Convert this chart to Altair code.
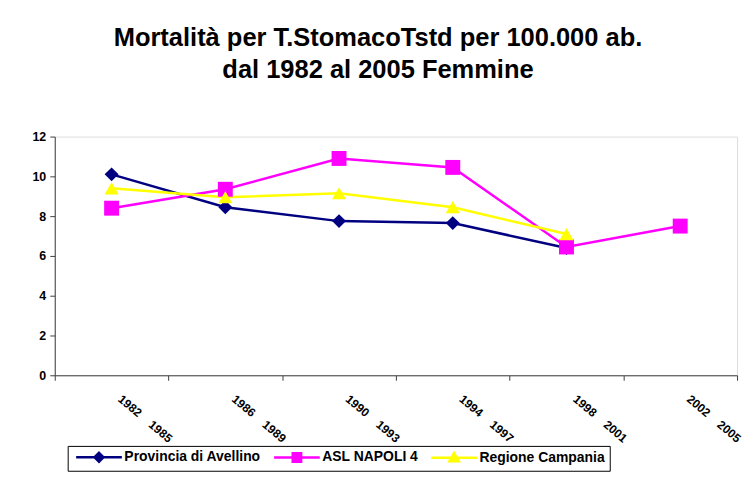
import altair as alt
import pandas as pd

SP = "\u00a0" * 4
periods = [f"1982{SP}1985", f"1986{SP}1989", f"1990{SP}1993",
           f"1994{SP}1997", f"1998{SP}2001", f"2002{SP}2005"]
series_names = ["Provincia di Avellino", "ASL NAPOLI 4", "Regione Campania"]
avellino = [10.1, 8.45, 7.75, 7.65, 6.4, None]
napoli = [8.4, 9.35, 10.9, 10.45, 6.45, 7.5]
campania = [9.4, 8.95, 9.15, 8.45, 7.1, None]
colors = ["#000080", "#FF00FF", "#FFFF00"]
shapes = ["diamond", "square", "triangle-up"]
marker_sizes = [196, 225, 200]
legend_shapes = ["M-3.83,0H3.83M0,-0.75L0.75,0L0,0.75L-0.75,0Z",
                 "M-3.83,0H3.83M-0.7,-0.7H0.7V0.7H-0.7Z",
                 "M-3.83,0H3.83M0,-0.8L0.8,0.6H-0.8Z"]

rows = []
for name, vals in zip(series_names, [avellino, napoli, campania]):
    for p, v in zip(periods, vals):
        if v is not None:
            rows.append({"periodo": p, "serie": name, "valore": v})
df = pd.DataFrame(rows)

FONT = "Liberation Sans"

x = alt.X("periodo:N", sort=periods, title=None,
          scale=alt.Scale(domain=periods, paddingInner=0, paddingOuter=0),
          axis=alt.Axis(labelAngle=40, labelAlign="left", labelBaseline="top",
                        labelPadding=13, labelOffset=11, labelFont=FONT, labelFontSize=12,
                        labelFontWeight="bold", labelColor="black", tickBand="extent",
                        tickSize=5, tickColor="#404040", domainColor="#404040",
                        labelOverlap=False, labelLimit=200))
y = alt.Y("valore:Q", title=None,
          scale=alt.Scale(domain=[0, 12], nice=False),
          axis=alt.Axis(values=[0, 2, 4, 6, 8, 10, 12], grid=False, tickSize=5,
                        labelFont=FONT, labelFontSize=12.5, labelFontWeight="bold",
                        labelColor="black", tickColor="#404040", domainColor="#404040",
                        labelPadding=4))

cscale = alt.Scale(domain=series_names, range=colors)

legend = alt.Legend(title=None, orient="none", legendX=13, legendY=311,
                    direction="horizontal", symbolSize=144, symbolStrokeWidth=2.5,
                    symbolOffset=20, labelOffset=18,
                    labelFont=FONT, labelFontSize=14, labelFontWeight="bold",
                    labelColor="black", strokeColor="black", padding=4,
                    columnPadding=7)

base = alt.Chart(df)

legend_layer = base.transform_filter("false").mark_point(filled=True, opacity=1, strokeWidth=2.5).encode(
    x=x, y=y,
    color=alt.Color("serie:N", scale=cscale, legend=legend),
    stroke=alt.Stroke("serie:N", scale=cscale, legend=legend),
    shape=alt.Shape("serie:N", scale=alt.Scale(domain=series_names, range=legend_shapes), legend=legend),
)

lines = base.mark_line(strokeWidth=2.5).encode(
    x=x, y=y, color=alt.Color("serie:N", scale=cscale, legend=None))

point_layers = []
for name, shp, sz in zip(series_names, shapes, marker_sizes):
    point_layers.append(
        base.transform_filter(alt.datum.serie == name)
        .mark_point(filled=True, opacity=1, shape=shp, size=sz)
        .encode(x=x, y=y, color=alt.Color("serie:N", scale=cscale, legend=None))
    )

chart = alt.layer(legend_layer, lines, *point_layers).properties(
    width=686, height=240,
    title=alt.Title(["Mortalità per T.StomacoTstd per 100.000 ab.", "dal 1982 al 2005 Femmine"],
                    font=FONT, fontSize=25.6, fontWeight="bold", color="black",
                    anchor="middle", dx=-18, lineHeight=32, offset=47),
    autosize=alt.AutoSizeParams(type="none"),
    padding={"left": 47, "top": 128, "right": 10, "bottom": 100},
).configure_view(stroke=None).configure(background="white")

chart.save("out.html", embed_options={"renderer": "svg", "actions": False})
